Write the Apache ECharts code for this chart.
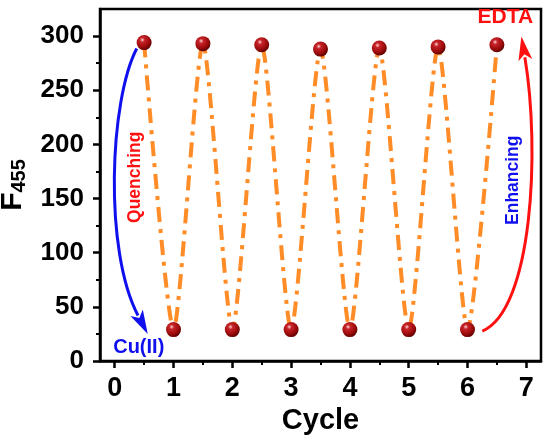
<!DOCTYPE html>
<html>
<head>
<meta charset="utf-8">
<script src="https://cdn.jsdelivr.net/npm/echarts@6/dist/echarts.min.js"></script>
<style>
  html, body { margin: 0; padding: 0; background: #fff; }
  #main { width: 550px; height: 441px; }
</style>
</head>
<body>
<div id="main"></div>
<script>
// data
var cycles = [0.5, 1, 1.5, 2, 2.5, 3, 3.5, 4, 4.5, 5, 5.5, 6, 6.5];
var f455 = [294, 29, 293, 29, 292, 29, 288, 29, 289, 29, 290, 29, 292];
var xTicks = [0, 1, 2, 3, 4, 5, 6, 7];
var xMinorTicks = [0.5, 1.5, 2.5, 3.5, 4.5, 5.5, 6.5];
var yTicks = [0, 50, 100, 150, 200, 250, 300];
var yMinorTicks = [25, 75, 125, 175, 225, 275];

var font = 'Liberation Sans, Arial, sans-serif';
var chart = echarts.init(document.getElementById('main'));

var sphere = {
    type: 'radial', x: 0.38, y: 0.32, r: 0.7,
    colorStops: [
        { offset: 0, color: '#fbd8d8' },
        { offset: 0.22, color: '#c8242a' },
        { offset: 0.7, color: '#9a0a0a' },
        { offset: 1, color: '#5c0000' }
    ]
};

var option = {
    animation: false,
    grid: {
        left: 100, right: 9, top: 9, bottom: 80,
        outerBoundsMode: 'none',
        show: true, borderColor: '#000', borderWidth: 2.5
    },
    xAxis: [{
        type: 'value', min: -0.25, max: 7.25,
        name: 'Cycle', nameLocation: 'middle', nameGap: 42,
        nameTextStyle: { fontFamily: font, fontWeight: 'bold', fontSize: 29, color: '#000' },
        axisLine: { onZero: false, lineStyle: { color: '#000', width: 2.5 } },
        axisTick: { length: 7, lineStyle: { width: 2.5, color: '#000' }, customValues: xTicks },
        axisLabel: { customValues: xTicks, margin: 14, fontFamily: font, fontWeight: 'bold', fontSize: 27, color: '#000' },
        splitLine: { show: false }
    }, {
        type: 'value', min: -0.25, max: 7.25, position: 'bottom',
        axisLine: { show: false, onZero: false },
        axisTick: { length: 4, lineStyle: { width: 2, color: '#000' }, customValues: xMinorTicks },
        axisLabel: { show: false },
        splitLine: { show: false }
    }],
    yAxis: [{
        type: 'value', min: 0, max: 325,
        name: '{f|F}{s|455}', nameLocation: 'middle', nameGap: 57,
        nameTextStyle: {
            rich: {
                f: { fontFamily: font, fontWeight: 'bold', fontSize: 30, color: '#000', lineHeight: 36 },
                s: { fontFamily: font, fontWeight: 'bold', fontSize: 20, color: '#000', lineHeight: 36, padding: [14, 0, 0, 0] }
            }
        },
        axisLine: { onZero: false, lineStyle: { color: '#000', width: 2.5 } },
        axisTick: { length: 7, lineStyle: { width: 2.5, color: '#000' }, customValues: yTicks },
        axisLabel: { customValues: yTicks, margin: 16, fontFamily: font, fontWeight: 'bold', fontSize: 26, color: '#000' },
        splitLine: { show: false }
    }, {
        type: 'value', min: 0, max: 325, position: 'left',
        axisLine: { show: false, onZero: false },
        axisTick: { length: 4, lineStyle: { width: 2, color: '#000' }, customValues: yMinorTicks },
        axisLabel: { show: false },
        splitLine: { show: false }
    }],
    series: [{
        type: 'line',
        data: cycles.map(function (c, i) { return [c, f455[i]]; }),
        smooth: 0.22,
        symbol: 'circle',
        symbolSize: 15,
        lineStyle: { color: '#ff8c26', width: 4, type: [15, 7, 4, 7], cap: 'butt' },
        itemStyle: { color: sphere },
        z: 3
    }]
};
chart.setOption(option);

// annotations, anchored through the axes
function px(x, y) { return chart.convertToPixel({ xAxisIndex: 0, yAxisIndex: 0 }, [x, y]); }
function toData(p) { return [(p[0] - 115) / 58.7, (361 - p[1]) / 1.0846]; }

function arrow(pts, color, headLen, headW) {
    // pts: start, cp1, cp2, tip (in data coords)
    var p = pts.map(function (d) { return px(d[0], d[1]); });
    var dx = p[3][0] - p[2][0], dy = p[3][1] - p[2][1];
    var len = Math.sqrt(dx * dx + dy * dy);
    var ux = dx / len, uy = dy / len;
    var bx = p[3][0] - ux * headLen, by = p[3][1] - uy * headLen;
    return [{
        type: 'bezierCurve',
        shape: { x1: p[0][0], y1: p[0][1], cpx1: p[1][0], cpy1: p[1][1], cpx2: p[2][0], cpy2: p[2][1], x2: bx + ux * 3, y2: by + uy * 3 },
        style: { stroke: color, lineWidth: 3, fill: null },
        z: 10
    }, {
        type: 'polygon',
        shape: { points: [p[3], [bx - uy * headW, by + ux * headW], [bx + ux * 6, by + uy * 6], [bx + uy * headW, by - ux * headW]] },
        style: { fill: color },
        z: 10
    }];
}

function label(text, x, y, color, size, rot) {
    var p = px(x, y);
    return {
        type: 'text', x: p[0], y: p[1], rotation: rot || 0, z: 11,
        style: { text: text, fill: color, font: 'bold ' + size + 'px ' + font, align: 'center', verticalAlign: 'middle' }
    };
}

var blue = arrow([toData([137, 48]), toData([110, 100]), toData([104, 250]), toData([148, 334])], '#1010ee', 24, 7);
var red = arrow([toData([482, 331]), toData([532, 310]), toData([540, 150]), toData([521, 36])], '#ff1010', 24, 7);

var q = toData([135, 177]), cu = toData([139, 347]), ed = toData([505, 17]), en = toData([513, 180]);
chart.setOption({
    graphic: blue.concat(red, [
        label('Quenching', q[0], q[1], '#ff1010', 17.5, Math.PI / 2),
        label('Cu(II)', cu[0], cu[1], '#1010ee', 20, 0),
        label('EDTA', ed[0], ed[1], '#ff1010', 21, 0),
        label('Enhancing', en[0], en[1], '#1010ee', 17.5, Math.PI / 2)
    ])
});
</script>
</body>
</html>
